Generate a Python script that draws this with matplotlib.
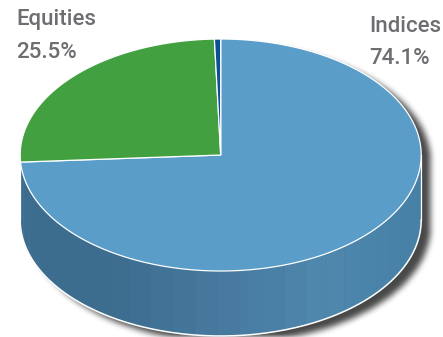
import numpy as np
import matplotlib
matplotlib.use("Agg")
import matplotlib.pyplot as plt
from matplotlib.path import Path
from matplotlib.patches import Polygon
from matplotlib.colors import to_rgb

# Portfolio split
categories = ["Indices", "Equities", "Other"]
shares = [74.1, 25.5, 0.5]
top_colors = ["#5b9dc9", "#43a040", "#0b4f96"]
side_colors = ["#3c6d8e", "#2f702d", "#083768"]
labelled = ["Indices", "Equities"]

W, H = 443, 337
CX, CY, RX, RY, DEPTH = 220.7, 155, 200.5, 116, 65

plt.rcParams["font.family"] = ["Roboto", "DejaVu Sans"]
fig = plt.figure(figsize=(W / 100, H / 100), dpi=100)
ax = fig.add_axes([0, 0, 1, 1])
ax.set_xlim(0, W)
ax.set_ylim(H, 0)
ax.axis("off")


def rim(t, dy=0.0):
    """Ellipse points for clockwise angles measured from 12 o'clock, in degrees."""
    r = np.radians(t)
    return np.column_stack([CX + RX * np.sin(r), CY - RY * np.cos(r) + dy])


def blur(a, size):
    kernel = np.ones(size) / size
    for _ in range(3):
        a = np.apply_along_axis(np.convolve, 0, a, kernel, "same")
        a = np.apply_along_axis(np.convolve, 1, a, kernel, "same")
    return a


# Soft drop shadow under the whole solid
front = np.linspace(90, 270, 181)
back = np.linspace(270, 450, 181)
outline = np.vstack([rim(front, DEPTH), rim(back)])
gx, gy = np.meshgrid(np.arange(W) + 0.5, np.arange(H) + 0.5)
pts = np.column_stack([gx.ravel() - 8, gy.ravel() - 5])
mask = Path(outline).contains_points(pts).reshape(H, W).astype(float)
mask = blur(mask, 6)
shadow = np.zeros((H, W, 4))
shadow[..., 3] = mask * 0.72
ax.imshow(shadow, extent=(0, W, H, 0), zorder=1, interpolation="bilinear", aspect="auto")

# Angular extent of each slice, clockwise from 12 o'clock
edges = np.concatenate([[0], np.cumsum(shares)]) / sum(shares) * 360

# Outer wall, shaded in narrow bands: darkest at the left, brightest right of centre
stops_x = [107, 220, 320, 410]
stops_rgb = np.array([to_rgb(c) for c in (side_colors[0], "#47799e", "#4f87ad", "#4881a7")])
bands = np.arange(90, 270, 6.5)
for a0, a1 in zip(bands[:-1], bands[1:]):
    mid = rim((a0 + a1) / 2)[0, 0]
    col = [np.interp(mid, stops_x, stops_rgb[:, k]) for k in range(3)]
    t = np.linspace(a0, a1, 8)
    ax.add_patch(Polygon(np.vstack([rim(t), rim(t[::-1], DEPTH)]), closed=True,
                         fc=col, ec=col, lw=0.4, zorder=2))

# White rim around the lower wall edge and sides
ax.plot(*rim(front, DEPTH).T, color="white", lw=1.1, zorder=3)
for a in (90, 270):
    ax.plot(*np.vstack([rim(a), rim(a, DEPTH)]).T, color="white", lw=0.9, zorder=3)

# Top face of the pie
for i, name in enumerate(categories):
    t = np.linspace(edges[i], edges[i + 1], max(int(edges[i + 1] - edges[i]) * 2, 4))
    ax.add_patch(Polygon(np.vstack([[CX, CY], rim(t)]), closed=True, fc=top_colors[i],
                         ec="white", lw=0.9, joinstyle="miter", zorder=4))

# Category captions
label_style = dict(color="#6d6e71", fontsize=16, fontweight="medium", zorder=5)
positions = {"Indices": (369, 32, 64), "Equities": (16.5, 25, 58)}
for name in labelled:
    x, y, yv = positions[name]
    ax.text(x, y, name, ha="left", va="baseline", **label_style)
    ax.text(x, yv, f"{shares[categories.index(name)]}%", ha="left", va="baseline", **label_style)

fig.savefig("out.png", dpi=100)
